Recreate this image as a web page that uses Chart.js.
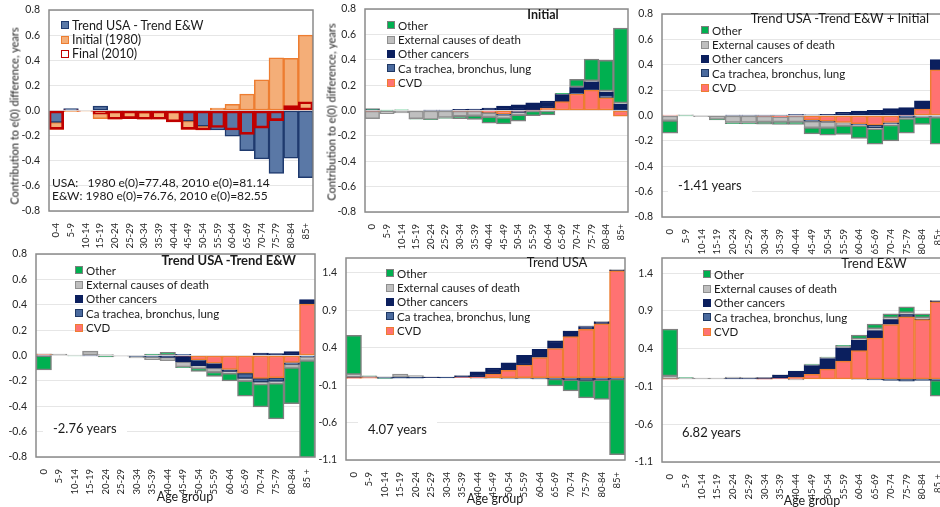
<!DOCTYPE html>
<html>
<head>
<meta charset="utf-8">
<script src="https://cdn.jsdelivr.net/npm/chart.js"></script>
<style>
body { margin: 0; background: #fff; font-family: Lato, "Open Sans", sans-serif; }
#page { position: relative; width: 940px; height: 507px; overflow: hidden; background: #fff; }
.panel { position: absolute; }
.panel canvas { position: absolute; left: 0; top: 0; }
.txt { position: absolute; white-space: pre; color: #1a1a1a; font-size: 12px; line-height: 14px; }
.note { background: #fff; padding: 0 10px; margin-left: -10px; }
.legend { position: absolute; font-size: 11.5px; color: #1a1a1a; }
.legend .row { display: flex; align-items: center; height: 14.4px; white-space: nowrap; }
.legend .mk { width: 6px; height: 6px; border: 1.5px solid; margin-right: 3px; }
.ytitle { position: absolute; white-space: nowrap; font-size: 11px; color: #1a1a1a; transform: translate(-50%, -50%) rotate(-90deg); }
</style>
</head>
<body>
<div id="page"></div>
<script>
// age groups
var ageGroups = ['0-4', '5-9', '10-14', '15-19', '20-24', '25-29', '30-34', '35-39', '40-44', '45-49', '50-54', '55-59', '60-64', '65-69', '70-74', '75-79', '80-84', '85+'];
var ageGroupsCause = ['0', '5-9', '10-14', '15-19', '20-24', '25-29', '30-34', '35-39', '40-44', '45-49', '50-54', '55-59', '60-64', '65-69', '70-74', '75-79', '80-84', '85+'];
var ageGroupsCauseSp = ['0', '5-9', '10-14', '15-19', '20-24', '25-29', '30-34', '35-39', '40-44', '45-49', '50-54', '55-59', '60-64', '65-69', '70-74', '75-79', '80-84', '85 +'];

var yTicksSmall = [-0.8, -0.6, -0.4, -0.2, 0, 0.2, 0.4, 0.6, 0.8];
var yTicksLarge = [-1.1, -0.6, -0.1, 0.4, 0.9, 1.4];

// panel 1: totals by age
var trendDiff = [-0.095, 0.015, 0.0, 0.035, -0.005, -0.005, -0.015, -0.01, -0.01, -0.085, -0.125, -0.155, -0.205, -0.32, -0.385, -0.5, -0.38, -0.535];
var initial1980 = [-0.055, -0.01, -0.005, -0.065, -0.065, -0.06, -0.055, -0.06, -0.08, -0.065, -0.03, 0.02, 0.05, 0.13, 0.245, 0.42, 0.415, 0.6];
var final2010 = [-0.15, 0.005, -0.005, -0.03, -0.07, -0.065, -0.07, -0.07, -0.09, -0.15, -0.155, -0.135, -0.155, -0.19, -0.14, -0.08, 0.04, 0.07];

var causeNames = ['CVD', 'Ca trachea, bronchus, lung', 'Other cancers', 'External causes of death', 'Other'];

// panel 2: Initial
var cvdInitial      = [-0.005, 0, 0, 0, 0, 0, -0.005, -0.005, -0.015, -0.025, -0.005, 0.003, 0.02, 0.07, 0.13, 0.16, 0.1, -0.045];
var lungInitial     = [0, 0, 0, 0, 0, 0, 0, 0, -0.005, -0.01, -0.01, 0, 0, 0, 0.005, 0.005, 0.015, 0.005];
var otherCaInitial  = [0.005, 0, 0, 0, 0.003, 0.003, 0.01, 0.012, 0.02, 0.035, 0.045, 0.057, 0.055, 0.055, 0.045, 0.06, 0.03, 0.045];
var externalInitial = [-0.06, -0.025, -0.02, -0.065, -0.07, -0.055, -0.04, -0.035, -0.03, -0.02, -0.02, -0.005, -0.005, 0.005, 0.005, 0.01, 0.01, 0.01];
var otherInitial    = [0.01, 0.003, 0.005, -0.003, -0.003, -0.008, -0.02, -0.03, -0.05, -0.05, -0.05, -0.035, -0.03, 0.005, 0.06, 0.17, 0.24, 0.59];

// panel 3: Trend USA - Trend E&W + Initial
var cvdFinal      = [0.003, 0, 0, 0, 0, 0, -0.005, -0.01, -0.005, -0.035, -0.045, -0.055, -0.065, -0.075, -0.055, 0.003, 0.05, 0.36];
var lungFinal     = [0, 0, 0, 0, 0, 0, 0, 0, 0.005, -0.01, -0.005, 0, -0.01, -0.02, -0.01, -0.015, -0.005, -0.005];
var otherCaFinal  = [0, 0, 0, 0, 0.003, 0.002, 0.003, 0.003, 0.003, 0.005, 0.01, 0.025, 0.035, 0.04, 0.055, 0.06, 0.065, 0.08];
var externalFinal = [-0.04, 0.005, -0.01, -0.03, -0.055, -0.055, -0.045, -0.04, -0.045, -0.05, -0.045, -0.025, -0.005, -0.01, -0.01, -0.01, -0.005, -0.01];
var otherFinal    = [-0.1, -0.003, 0, -0.005, -0.01, -0.012, -0.018, -0.02, -0.02, -0.05, -0.06, -0.07, -0.1, -0.12, -0.125, -0.115, -0.06, -0.21];

// panel 4: Trend USA - Trend E&W
var cvdDiff      = [0.008, 0, 0, 0, 0, 0, 0, 0, 0, -0.005, -0.035, -0.06, -0.11, -0.14, -0.18, -0.175, -0.055, 0.405];
var lungDiff     = [-0.003, 0, 0, 0, 0, 0, -0.008, -0.012, -0.005, 0.01, -0.005, -0.005, -0.005, -0.04, -0.03, -0.03, -0.015, -0.01];
var otherCaDiff  = [0, 0, 0, -0.003, 0, 0, 0, 0, -0.01, -0.045, -0.04, -0.035, -0.01, 0, 0.02, 0.015, 0.03, 0.035];
var externalDiff = [0.005, 0.012, 0.004, 0.035, 0.008, -0.005, -0.012, -0.02, -0.025, -0.04, -0.02, -0.03, -0.015, -0.02, -0.015, -0.015, -0.025, -0.03];
var otherDiff    = [-0.11, 0, -0.004, 0, -0.012, 0, 0, 0.012, 0.025, -0.005, -0.025, -0.035, -0.06, -0.12, -0.18, -0.28, -0.285, -0.78];

// panel 5: Trend USA
var cvdUsa      = [-0.01, -0.005, 0, 0, 0, 0, 0, 0.003, 0.01, 0.05, 0.1, 0.17, 0.27, 0.39, 0.55, 0.645, 0.72, 1.43];
var lungUsa     = [0, 0, -0.005, -0.005, -0.005, 0, -0.003, 0, 0, 0, -0.005, -0.005, -0.01, -0.02, -0.03, -0.035, -0.03, -0.02];
var otherCaUsa  = [0.01, 0, 0, 0.005, 0.005, 0.005, 0.008, 0.022, 0.07, 0.08, 0.1, 0.13, 0.11, 0.1, 0.07, 0.04, 0.025, 0.01];
var externalUsa = [0.035, 0.02, 0.012, 0.045, 0.025, 0.008, 0, 0.005, -0.01, -0.01, -0.01, -0.01, -0.01, 0.005, 0.005, 0.01, 0.01, 0.005];
var otherUsa    = [0.52, 0.005, -0.005, 0, 0, 0, 0, 0, 0, 0, 0, 0, 0, -0.09, -0.145, -0.235, -0.26, -1.01];

// panel 6: Trend E&W
var cvdEw      = [-0.005, 0, 0, 0, 0, 0, -0.005, 0.005, 0.02, 0.06, 0.13, 0.235, 0.375, 0.54, 0.72, 0.82, 0.785, 1.02];
var lungEw     = [0, 0, 0, 0, 0, 0, 0, 0, 0, 0, 0, 0, -0.005, -0.012, -0.02, -0.03, -0.02, -0.02];
var otherCaEw  = [0, 0, 0, 0, 0.005, 0.005, 0.015, 0.045, 0.08, 0.115, 0.14, 0.175, 0.135, 0.1, 0.065, 0.03, 0.005, 0.01];
var externalEw = [0.04, 0.012, 0.01, 0.012, 0.018, 0.012, 0.005, 0.005, -0.012, 0.015, 0.015, 0.02, 0.02, 0.025, 0.025, 0.025, 0.02, 0.01];
var otherEw    = [0.62, 0.006, 0, 0, 0, 0, 0, 0, 0.005, 0.005, 0.005, 0.015, 0.05, 0.06, 0.05, 0.08, 0.05, -0.21];

var causeFill = ['#FF7272', '#4A6A9E', '#0B1F5E', '#BFBFBF', '#00B050'];
var causeLine = ['#ED7D31', '#1F3864', '#0B1F5E', '#8F8F8F', '#7F7F7F'];

Chart.defaults.font.family = 'Lato, "Open Sans", sans-serif';
Chart.defaults.color = '#262626';

var page = document.getElementById('page');

var frame = {
    id: 'frame',
    afterDatasetsDraw: function (c) {
        var a = c.chartArea, ctx = c.ctx;
        ctx.save();
        ctx.strokeStyle = '#8a8a8a';
        ctx.lineWidth = 1.5;
        ctx.strokeRect(a.left, a.top, a.right - a.left, a.bottom - a.top);
        ctx.restore();
    }
};

function panel(box, labels, datasets, yMin, yMax, yTicks) {
    var yW = 44, xH = 46, pt = 8, pr = 6;
    var div = document.createElement('div');
    div.className = 'panel';
    div.style.left = (box[0] - yW) + 'px';
    div.style.top = (box[1] - pt) + 'px';
    var cv = document.createElement('canvas');
    cv.width = box[2] - box[0] + yW + pr;
    cv.height = box[3] - box[1] + pt + xH;
    div.appendChild(cv);
    page.appendChild(div);

    return new Chart(cv, {
        type: 'bar',
        data: { labels: labels, datasets: datasets },
        options: {
            responsive: false,
            animation: false,
            layout: { padding: { top: pt, right: pr, left: 0, bottom: 0 } },
            plugins: { legend: { display: false }, tooltip: { enabled: false } },
            scales: {
                x: {
                    stacked: true,
                    grid: { display: false },
                    border: { display: false },
                    ticks: {
                        autoSkip: false, minRotation: 90, maxRotation: 90, padding: 4,
                        font: { family: '"Liberation Sans Narrow", Lato, sans-serif', size: 9.5 }
                    },
                    afterFit: function (s) { s.height = xH; s.paddingLeft = 0; s.paddingRight = 0; }
                },
                y: {
                    stacked: true,
                    min: yMin,
                    max: yMax,
                    afterBuildTicks: function (s) { s.ticks = yTicks.map(function (v) { return { value: v }; }); },
                    grid: { color: '#e6e6e6', drawTicks: false },
                    border: { display: false },
                    ticks: { padding: 9, font: { size: 10.5 }, callback: function (v) { return v.toFixed(1); } },
                    afterFit: function (s) { s.width = yW; s.paddingTop = 0; s.paddingBottom = 0; }
                }
            }
        },
        plugins: [frame]
    });
}

function barSet(label, data, fill, line, extra) {
    var ds = {
        label: label,
        data: data,
        backgroundColor: fill,
        borderColor: line,
        borderWidth: 1.5,
        borderSkipped: false,
        categoryPercentage: 1,
        barPercentage: 1
    };
    if (extra) Object.assign(ds, extra);
    return ds;
}

function causeSets(series) {
    return series.map(function (d, i) {
        return barSet(causeNames[i], d, causeFill[i], causeLine[i]);
    });
}

// anchor: 'l' left edge at x, 'c' centred on x, 'r' right edge at x
function addText(text, x, y, style, anchor, cls) {
    var d = document.createElement('div');
    d.className = 'txt' + (cls ? ' ' + cls : '');
    d.textContent = text;
    d.style.left = x + 'px';
    d.style.top = (y - 7) + 'px';
    if (anchor === 'c') d.style.transform = 'translateX(-50%)';
    if (anchor === 'r') d.style.transform = 'translateX(-100%)';
    if (style) d.style.cssText += style;
    page.appendChild(d);
    return d;
}

function addLegend(items, x, y, size) {
    var lg = document.createElement('div');
    lg.className = 'legend';
    lg.style.left = x + 'px';
    lg.style.top = y + 'px';
    if (size) lg.style.fontSize = size + 'px';
    items.forEach(function (it) {
        var row = document.createElement('div');
        row.className = 'row';
        var mk = document.createElement('span');
        mk.className = 'mk';
        mk.style.background = it.fill;
        mk.style.borderColor = it.line;
        var tx = document.createElement('span');
        tx.textContent = it.label;
        row.appendChild(mk);
        row.appendChild(tx);
        lg.appendChild(row);
    });
    page.appendChild(lg);
}

function causeLegend(x, y) {
    var items = [];
    for (var i = causeNames.length - 1; i >= 0; i--) {
        items.push({ label: causeNames[i], fill: causeFill[i], line: causeLine[i] });
    }
    addLegend(items, x, y);
}

function yTitle(x, y) {
    var d = document.createElement('div');
    d.className = 'ytitle';
    d.textContent = 'Contribution to e(0) difference, years';
    d.style.left = x + 'px';
    d.style.top = y + 'px';
    page.appendChild(d);
}

// panel 1
panel([49, 10, 313, 211], ageGroups, [
    barSet('Final (2010)', final2010, 'rgba(0,0,0,0)', '#C00000', { borderWidth: 2, grouped: false, stack: 'final', order: 0 }),
    barSet('Initial (1980)', initial1980, '#F4AE78', '#ED7D31', { stack: 'a', order: 2 }),
    barSet('Trend USA - Trend E&W', trendDiff, '#5A78A6', '#1F3A6E', { stack: 'a', order: 1 })
], -0.8, 0.8, yTicksSmall);
addLegend([
    { label: 'Trend USA - Trend E&W', fill: '#5A78A6', line: '#1F3A6E' },
    { label: 'Initial (1980)', fill: '#F4AE78', line: '#ED7D31' },
    { label: 'Final (2010)', fill: '#fff', line: '#C00000' }
], 61, 18, 12.5);
addText('USA:   1980 e(0)=77.48, 2010 e(0)=81.14', 52, 183);
addText('E&W: 1980 e(0)=76.76, 2010 e(0)=82.55', 52, 196);
yTitle(14, 116);

// panel 2
panel([365, 9, 628, 212], ageGroupsCause, causeSets([cvdInitial, lungInitial, otherCaInitial, externalInitial, otherInitial]), -0.8, 0.8, yTicksSmall);
causeLegend(387, 18);
addText('Initial', 543, 15, 'font-weight:bold;font-size:12.5px;', 'c');
yTitle(331, 112);

// panel 3
panel([662, 14, 946, 217], ageGroupsCause, causeSets([cvdFinal, lungFinal, otherCaFinal, externalFinal, otherFinal]), -0.8, 0.8, yTicksSmall);
causeLegend(701, 23);
addText('Trend USA -Trend E&W + Initial', 929, 18, 'font-size:13px;', 'r');
addText('-1.41 years', 678, 185, 'font-size:13px;', 'l', 'note');

// panel 4
panel([36, 254, 315, 457], ageGroupsCauseSp, causeSets([cvdDiff, lungDiff, otherCaDiff, externalDiff, otherDiff]), -0.8, 0.8, yTicksSmall);
causeLegend(75, 263);
addText('Trend USA -Trend E&W', 296, 260, 'font-weight:bold;font-size:13px;', 'r');
addText('-2.76 years', 53, 428, 'font-size:13px;', 'l', 'note');
addText('Age group', 185, 497, 'font-size:12.5px;', 'c');

// panel 5
panel([346, 258, 625, 460], ageGroupsCause, causeSets([cvdUsa, lungUsa, otherCaUsa, externalUsa, otherUsa]), -1.1, 1.6, yTicksLarge);
causeLegend(386, 266);
addText('Trend USA', 557, 262, 'font-size:13px;', 'c');
addText('4.07 years', 368, 429, 'font-size:13px;', 'l', 'note');
addText('Age group', 495, 499, 'font-size:12.5px;', 'c');

// panel 6
panel([662, 258, 946, 462], ageGroupsCauseSp, causeSets([cvdEw, lungEw, otherCaEw, externalEw, otherEw]), -1.1, 1.6, yTicksLarge);
causeLegend(703, 267);
addText('Trend E&W', 874, 263, 'font-size:13px;', 'c');
addText('6.82 years', 682, 432, 'font-size:13px;', 'l', 'note');
addText('Age group', 812, 501, 'font-size:12.5px;', 'c');
</script>
</body>
</html>
